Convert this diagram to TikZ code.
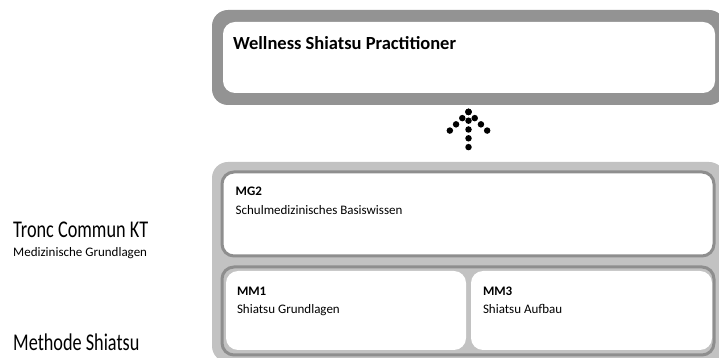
\documentclass[tikz,border=0pt]{standalone}
\usepackage{fontspec}
\setmainfont{Carlito}
\newfontfamily\sidefont[FakeStretch=0.76]{Carlito}
\usetikzlibrary{positioning}
\definecolor{framegray}{HTML}{939393}
\definecolor{basegray}{HTML}{C2C2C2}
\definecolor{rimgray}{HTML}{8E8E8E}
\tikzset{
  frame/.style={rounded corners=16pt, inner sep=0pt, minimum width=513pt},
  card/.style={rounded corners=12pt, fill=white, inner sep=0pt},
  title/.style={font=\fontsize{13}{15}\selectfont\bfseries, inner sep=0pt, anchor=base west},
  sub/.style={font=\fontsize{13}{15}\selectfont, inner sep=0pt, anchor=base west},
  side/.style={font=\sidefont\fontsize{24}{28}\selectfont, inner sep=0pt, anchor=base west},
  dotline/.style={line width=6.5pt, line cap=round, dash pattern=on 0pt off 8.8pt},
}
\begin{document}
\begin{tikzpicture}[x=1pt,y=1pt]
\clip (0,0) rectangle (719,358);
\fill[white] (0,0) rectangle (719,358);
% Ziel
\node[frame, fill=framegray, minimum height=95pt] (wsp) at (468.5,300.5) {};
\node[card, minimum width=492pt, minimum height=71pt] (wspcard) at (469,300.5) {};
\node[title, font=\fontsize{18.5}{22}\selectfont\bfseries] (wsptitle) at ([xshift=10pt,yshift=-28pt]wspcard.north west) {Wellness Shiatsu Practitioner};
% Module
\node[frame, fill=basegray, minimum height=200pt] (base) at (468.5,96) {};
\node[card, draw=rimgray, line width=3pt, minimum width=492pt, minimum height=84pt] (mgbox) at (468,144) {};
\node[card, fill=basegray, draw=rimgray, line width=3pt, minimum width=492pt, minimum height=88pt] (mmrow) at (468,47) {};
\node[card, minimum width=240pt, minimum height=79pt] (mmone) at (346,47.5) {};
\node[card, minimum width=241pt, minimum height=79pt] (mmthree) at (591.5,47.5) {};
\node[title] (mgtitle) at ([xshift=15pt,yshift=-25pt]mgbox.north west) {MG2};
\node[sub] (mgsub) at ([yshift=-19pt]mgtitle.base west) {Schulmedizinisches Basiswissen};
\node[title] (mmonetitle) at ([xshift=11pt,yshift=-25pt]mmone.north west) {MM1};
\node[sub] (mmonesub) at ([yshift=-18pt]mmonetitle.base west) {Shiatsu Grundlagen};
\node[title] (mmthreetitle) at ([xshift=12pt,yshift=-25pt]mmthree.north west) {MM3};
\node[sub] (mmthreesub) at ([yshift=-18pt]mmthreetitle.base west) {Shiatsu Aufbau};
% Beschriftung links
\node[side] (tronc) at (13,120) {Tronc Commun KT};
\node[sub] (troncsub) at ([yshift=-19pt]tronc.base west) {Medizinische Grundlagen};
\node[side] (methode) at (13,7) {Methode Shiatsu};
% Pfeil
\coordinate (tip) at ([yshift=-6.7pt]wsp.south);
\draw[dotline] (tip) -- ([yshift=6pt]base.north);
\draw[dotline] (tip) -- ++(-19,-19);
\draw[dotline] (tip) -- ++(19,-19);
\end{tikzpicture}
\end{document}
